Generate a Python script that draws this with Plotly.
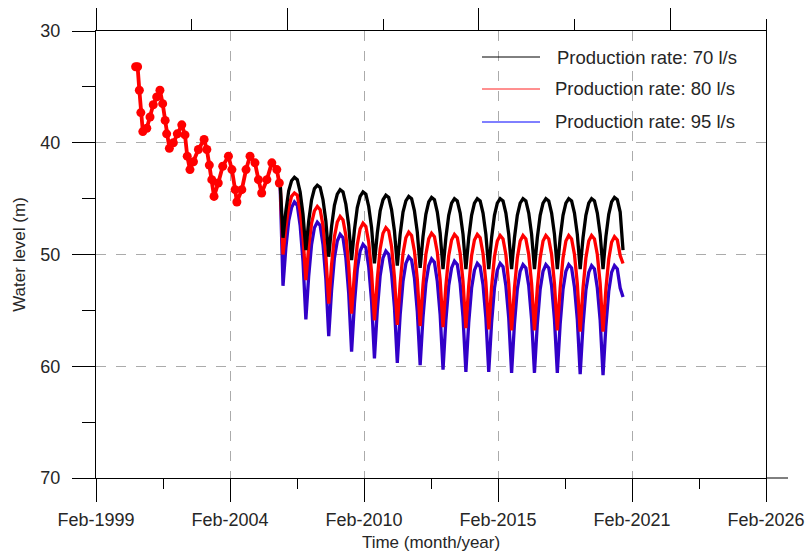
import numpy as np
import plotly.graph_objects as go

FONT = "Arial, Liberation Sans, sans-serif"
TEXT = "#262626"

# ---- axes -------------------------------------------------------------
x_tick_labels = ["Feb-1999", "Feb-2004", "Feb-2010", "Feb-2015", "Feb-2021", "Feb-2026"]
x_first = 1999 + 1 / 12          # decimal year of the first tick
x_tick_step = 5.4                # years between labelled ticks
y_tick_values = [30, 40, 50, 60, 70]

# ---- observed water levels (decimal year, m below datum) ---------------
obs_time = [2000.68, 2000.76, 2000.83, 2000.89, 2000.97, 2001.13, 2001.26, 2001.39,
            2001.53, 2001.66, 2001.77, 2001.87, 2001.93, 2002.04, 2002.20, 2002.36,
            2002.54, 2002.67, 2002.76, 2002.87, 2003.01, 2003.21, 2003.44, 2003.55,
            2003.65, 2003.75, 2003.84, 2004.01, 2004.19, 2004.42, 2004.56, 2004.69,
            2004.76, 2004.96, 2005.13, 2005.29, 2005.49, 2005.63, 2005.76, 2005.97,
            2006.17, 2006.37, 2006.47]
obs_level = [33.2, 33.2, 35.3, 37.3, 39.0, 38.7, 37.7, 36.6,
             35.9, 35.3, 36.5, 38.0, 39.2, 40.5, 40.0, 39.2,
             38.4, 39.3, 41.2, 42.4, 41.7, 40.6, 39.7, 40.6,
             42.0, 43.3, 44.8, 43.6, 42.1, 41.2, 42.4, 44.2,
             45.3, 44.2, 42.4, 41.2, 41.8, 43.3, 44.5, 43.3,
             41.8, 42.4, 43.6]

# ---- simulated water levels on a regular time step ---------------------
sim_start = 2006.504
sim_step = 0.11515

level_70 = [43.5,
            48.5, 46.1, 44.3, 43.4, 43.1, 43.3, 44.4, 46.4,
            49.6, 47.0, 45.1, 44.1, 43.8, 44.0, 45.1, 47.0,
            50.2, 47.5, 45.6, 44.6, 44.2, 44.4, 45.5, 47.4,
            50.5, 47.8, 45.8, 44.8, 44.4, 44.6, 45.7, 47.6,
            50.8, 48.1, 46.1, 45.1, 44.7, 44.9, 46.0, 47.9,
            51.0, 48.2, 46.2, 45.2, 44.8, 45.0, 46.1, 48.0,
            51.2, 48.4, 46.4, 45.3, 44.9, 45.1, 46.2, 48.1,
            51.3, 48.5, 46.5, 45.4, 45.0, 45.2, 46.3, 48.2,
            51.3, 48.5, 46.5, 45.4, 45.0, 45.2, 46.3, 48.2,
            51.3, 48.5, 46.5, 45.4, 45.0, 45.2, 46.3, 48.2,
            51.3, 48.5, 46.5, 45.4, 45.0, 45.2, 46.3, 48.2,
            51.3, 48.5, 46.5, 45.4, 45.0, 45.2, 46.3, 48.2,
            51.3, 48.5, 46.5, 45.4, 45.0, 45.2, 46.3, 48.2,
            51.3, 48.5, 46.5, 45.4, 45.0, 45.2, 46.3, 48.2,
            51.3, 48.4, 46.4, 45.3, 44.9, 45.1, 46.2, 49.6]

level_80 = [43.5,
            50.0, 47.5, 45.8, 44.8, 44.5, 44.7, 46.1, 48.4,
            52.3, 49.3, 47.2, 46.1, 45.7, 46.0, 47.4, 50.1,
            54.4, 50.9, 48.4, 47.1, 46.6, 46.9, 48.3, 51.0,
            55.3, 51.7, 49.1, 47.7, 47.2, 47.5, 48.9, 51.6,
            55.9, 52.2, 49.5, 48.1, 47.6, 47.9, 49.3, 52.0,
            56.3, 52.6, 49.9, 48.5, 48.0, 48.3, 49.7, 52.2,
            56.4, 52.7, 50.0, 48.6, 48.1, 48.4, 49.8, 52.3,
            56.5, 52.8, 50.1, 48.7, 48.2, 48.5, 49.9, 52.4,
            56.6, 52.8, 50.1, 48.7, 48.2, 48.5, 49.9, 52.5,
            56.7, 52.9, 50.2, 48.8, 48.3, 48.6, 50.0, 52.6,
            56.8, 53.0, 50.3, 48.8, 48.3, 48.6, 50.0, 52.6,
            56.8, 53.0, 50.3, 48.8, 48.3, 48.6, 50.0, 52.6,
            56.8, 53.0, 50.3, 48.8, 48.3, 48.6, 50.0, 52.6,
            56.9, 53.0, 50.3, 48.8, 48.3, 48.6, 50.0, 52.6,
            56.9, 53.1, 50.4, 48.9, 48.4, 48.7, 50.1, 50.8]

level_95 = [43.8,
            52.8, 49.4, 47.0, 45.8, 45.3, 45.6, 47.4, 50.6,
            55.8, 51.9, 49.1, 47.6, 47.1, 47.4, 49.1, 52.2,
            57.3, 53.2, 50.3, 48.8, 48.2, 48.5, 50.3, 53.5,
            58.7, 54.4, 51.3, 49.7, 49.1, 49.4, 51.1, 54.2,
            59.3, 55.0, 51.9, 50.3, 49.7, 50.0, 51.7, 54.7,
            59.7, 55.4, 52.4, 50.8, 50.2, 50.5, 52.1, 55.1,
            59.9, 55.6, 52.6, 51.0, 50.4, 50.7, 52.4, 55.4,
            60.3, 55.9, 52.8, 51.2, 50.6, 50.9, 52.6, 55.6,
            60.5, 56.1, 53.0, 51.4, 50.8, 51.1, 52.7, 55.7,
            60.5, 56.1, 53.0, 51.4, 50.8, 51.1, 52.8, 55.7,
            60.6, 56.2, 53.1, 51.5, 50.9, 51.2, 52.8, 55.8,
            60.6, 56.2, 53.1, 51.5, 50.9, 51.2, 52.8, 55.8,
            60.6, 56.2, 53.1, 51.5, 50.9, 51.2, 52.9, 55.8,
            60.7, 56.3, 53.2, 51.6, 51.0, 51.3, 53.0, 55.9,
            60.8, 56.4, 53.3, 51.6, 51.0, 51.3, 53.0, 53.8]

series_names = ["Production rate: 70 l/s", "Production rate: 80 l/s", "Production rate: 95 l/s"]
line_colors = ["#000000", "#ff0000", "#3200c8"]
key_colors = ["#000000", "#ff2020", "#0000ff"]

sim_time = sim_start + sim_step * np.arange(len(level_70))
x_ticks = [x_first + x_tick_step * k for k in range(len(x_tick_labels))]
x_minor = [v + x_tick_step / 2 for v in x_ticks[:-1]]

fig = go.Figure()

# simulated scenarios: highest rate underneath, lowest rate on top
for levels, color in zip([level_95, level_80, level_70], line_colors[::-1]):
    fig.add_trace(go.Scatter(x=sim_time, y=levels, mode="lines",
                             line=dict(color=color, width=3.3),
                             showlegend=False, hoverinfo="skip"))

# observed levels
fig.add_trace(go.Scatter(x=obs_time, y=obs_level, mode="lines+markers",
                         line=dict(color="#ff0000", width=3.8),
                         marker=dict(color="#ff0000", size=9),
                         showlegend=False, hoverinfo="skip"))

# placeholder so the top axis is drawn
fig.add_trace(go.Scatter(x=[None], y=[None], xaxis="x2", yaxis="y",
                         showlegend=False, hoverinfo="skip"))

W, H = 809, 554
L, R, T, B = 96, 43, 31, 76
pw, ph = W - L - R, H - T - B

def px_x(p):
    return (p - L) / pw

def px_y(p):
    return 1 - (p - T) / ph

# legend key
key_rows = [57, 89, 122]
key_text_x = [555, 553, 553]
for name, color, row, tx in zip(series_names, key_colors, key_rows, key_text_x):
    fig.add_shape(type="line", xref="paper", yref="paper",
                  x0=px_x(482), x1=px_x(540), y0=px_y(row), y1=px_y(row),
                  line=dict(color=color, width=1))
    fig.add_annotation(text=name, xref="paper", yref="paper",
                       x=px_x(tx), y=px_y(row), xanchor="left", yanchor="middle",
                       showarrow=False, font=dict(family=FONT, size=18.5, color=TEXT))

# bottom axis line runs a little past the frame
fig.add_shape(type="line", xref="paper", yref="paper",
              x0=1, x1=px_x(788), y0=0, y1=0, line=dict(color="#000000", width=1))

grid = dict(showgrid=True, gridcolor="#ababab", gridwidth=1.2, griddash="10px,10px")
tick_font = dict(family=FONT, size=18, color=TEXT)

fig.update_layout(
    width=W, height=H,
    margin=dict(l=L, r=R, t=T, b=B, pad=0, autoexpand=False),
    paper_bgcolor="white", plot_bgcolor="white",
    font=dict(family=FONT, size=18, color=TEXT),
    showlegend=False,
    xaxis=dict(
        range=[x_ticks[0], x_ticks[-1]], automargin=False,
        tickmode="array", tickvals=x_ticks, ticktext=x_tick_labels,
        ticks="outside", ticklen=23, tickwidth=1, tickcolor="#000000",
        minor=dict(tickmode="array", tickvals=x_minor, ticks="outside",
                   ticklen=10, tickwidth=1, tickcolor="#000000", showgrid=False),
        showline=True, linecolor="#000000", linewidth=1,
        ticklabelstandoff=2, tickfont=tick_font,
        title=dict(text="Time (month/year)", standoff=7,
                   font=dict(family=FONT, size=17, color=TEXT)),
        zeroline=False, **grid,
    ),
    xaxis2=dict(
        overlaying="x", side="top", anchor="y", automargin=False,
        range=[0, 7], tickmode="linear", tick0=0, dtick=2,
        ticks="outside", ticklen=22, tickwidth=1, tickcolor="#000000",
        minor=dict(dtick=1, tick0=0, ticks="outside", ticklen=11,
                   tickwidth=1, tickcolor="#000000", showgrid=False),
        showticklabels=False, showgrid=False, zeroline=False,
        showline=True, linecolor="#000000", linewidth=1,
    ),
    yaxis=dict(
        range=[70, 30], tickmode="array", tickvals=y_tick_values, automargin=False,
        ticks="outside", ticklen=23, tickwidth=1, tickcolor="#000000",
        minor=dict(tickmode="linear", tick0=35, dtick=10, ticks="outside",
                   ticklen=13, tickwidth=1, tickcolor="#000000", showgrid=False),
        showline=True, linecolor="#000000", linewidth=1, mirror=True,
        ticklabelstandoff=8, tickfont=tick_font,
        title=dict(text="Water level (m)", standoff=10,
                   font=dict(family=FONT, size=17, color=TEXT)),
        zeroline=False, **grid,
    ),
)

fig.write_html("out.html")
